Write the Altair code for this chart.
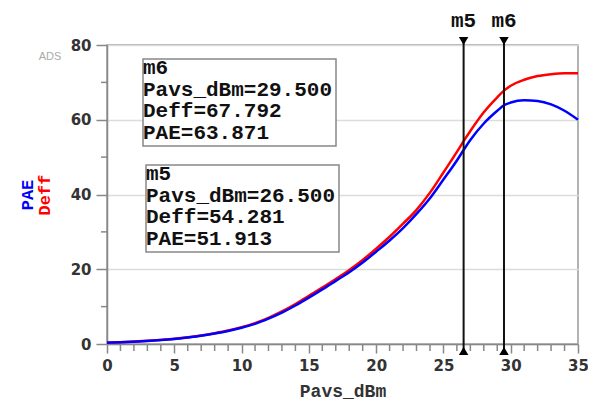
import altair as alt
import pandas as pd

# ---- data ----
pavs = [0, 1, 2, 3, 4, 5, 6, 7, 8, 9, 10, 11, 12, 13, 14, 15, 16, 17, 18, 19, 20,
        21, 22, 23, 24, 25, 26, 26.5, 27, 28, 29, 29.5, 30, 31, 32, 33, 34, 35]
deff = [0.4, 0.5, 0.65, 0.85, 1.1, 1.4, 1.8, 2.3, 2.9, 3.6, 4.5, 5.6, 7.0, 8.7, 10.7,
        12.9, 15.1, 17.4, 19.8, 22.5, 25.5, 28.7, 32.2, 35.9, 40.5, 45.9, 51.4, 54.281,
        57.0, 62.0, 66.0, 67.792, 69.1, 70.7, 71.7, 72.2, 72.45, 72.45]
pae = [0.35, 0.45, 0.6, 0.8, 1.05, 1.35, 1.75, 2.2, 2.8, 3.5, 4.35, 5.4, 6.8, 8.4, 10.3,
       12.4, 14.6, 16.9, 19.2, 21.8, 24.7, 27.7, 31.0, 34.8, 39.0, 44.0, 49.1, 51.913,
       54.6, 59.0, 62.4, 63.871, 64.6, 65.2, 65.0, 64.1, 62.4, 60.0]

marker_names = ["m5", "m6"]
marker_pavs = [26.5, 29.5]
marker_deff = [54.281, 67.792]
marker_pae = [51.913, 63.871]

x_major = [0, 5, 10, 15, 20, 25, 30, 35]
x_minor = [v for v in range(0, 36) if v % 5 != 0]
y_major = [0, 20, 40, 60, 80]
y_minor = [10, 30, 50, 70]

curves = pd.DataFrame({"Pavs_dBm": pavs, "Deff": deff, "PAE": pae})
markers = pd.DataFrame({"name": marker_names, "Pavs_dBm": marker_pavs,
                        "Deff": marker_deff, "PAE": marker_pae})

MONO = "Liberation Mono"
W, H = 471, 299

x_scale = alt.Scale(domain=[0, 35], nice=False, zero=False)
y_scale = alt.Scale(domain=[0, 80], nice=False)

x_axis = alt.Axis(
    values=x_major, labelOverlap=False, labelFlush=False,
    tickSize=9, grid=False,
    title="Pavs_dBm",
    titleFont=MONO, titleFontWeight="bold", titleFontSize=18, titleColor="#333",
    titlePadding=9, labelPadding=5,
)
y_axis = alt.Axis(
    values=y_major, labelOverlap=False, labelFlush=False,
    tickSize=11, grid=True, gridColor="#dcdcdc", gridWidth=1.5,
    title=None, labelPadding=5,
)

base = alt.Chart(curves)
red = base.mark_line(color="#ff0000", strokeWidth=2.5, interpolate="monotone").encode(
    x=alt.X("Pavs_dBm:Q", scale=x_scale, axis=x_axis),
    y=alt.Y("Deff:Q", scale=y_scale, axis=y_axis),
)
blue = base.mark_line(color="#0000ff", strokeWidth=2.5, interpolate="monotone").encode(
    x=alt.X("Pavs_dBm:Q", scale=x_scale),
    y=alt.Y("PAE:Q", scale=y_scale),
)

# minor ticks
xminor = alt.Chart(pd.DataFrame({"Pavs_dBm": x_minor})).mark_rule(
    color="#888", strokeWidth=1.5
).encode(x=alt.X("Pavs_dBm:Q", scale=x_scale), y=alt.value(H), y2=alt.value(H + 7))
yminor = alt.Chart(pd.DataFrame({"Deff": y_minor})).mark_rule(
    color="#888", strokeWidth=1.5
).encode(y=alt.Y("Deff:Q", scale=y_scale), x=alt.value(0), x2=alt.value(-6))

mk = alt.Chart(markers)
vlines = mk.mark_rule(color="#111", strokeWidth=2).encode(
    x=alt.X("Pavs_dBm:Q", scale=x_scale), y=alt.value(-4), y2=alt.value(306)
)
tri_top = mk.mark_point(shape="triangle-down", filled=True, color="#000", size=90, opacity=1).encode(
    x=alt.X("Pavs_dBm:Q", scale=x_scale), y=alt.value(-4)
)
tri_bot = mk.mark_point(shape="triangle-up", filled=True, color="#000", size=90, opacity=1).encode(
    x=alt.X("Pavs_dBm:Q", scale=x_scale), y=alt.value(306)
)
mlabels = mk.mark_text(font=MONO, fontWeight="bold", fontSize=21, color="#111",
                       baseline="alphabetic").encode(
    x=alt.X("Pavs_dBm:Q", scale=x_scale), y=alt.value(-18), text="name:N"
)

# marker readout boxes
def box_text(i):
    return (f"{marker_names[i]}\nPavs_dBm={marker_pavs[i]:.3f}\n"
            f"Deff={marker_deff[i]:.3f}\nPAE={marker_pae[i]:.3f}")

def readout(i, x0, x1, y0, y1):
    rect = alt.Chart(markers).mark_rect(fill="white", stroke="#888", strokeWidth=1.5).encode(
        x=alt.value(x0), x2=alt.value(x1), y=alt.value(y0), y2=alt.value(y1)
    ).transform_filter(alt.datum.name == marker_names[i])
    txt = alt.Chart(pd.DataFrame({"t": [box_text(i)]})).mark_text(
        font=MONO, fontWeight="bold", fontSize=21, color="#111",
        align="left", baseline="top", lineBreak="\n", lineHeight=21.5
    ).encode(x=alt.value(x0), y=alt.value(y0 - 2), text="t:N")
    return rect + txt

box6 = readout(1, 36, 229, 14, 101)
box5 = readout(0, 39, 232, 120, 207)

# y axis title (two colours) and ADS tag
ytitle_pae = alt.Chart(pd.DataFrame({"t": ["PAE"]})).mark_text(
    font=MONO, fontWeight="bold", fontSize=17, angle=270, color="#0000ff"
).encode(x=alt.value(-79), y=alt.value(150), text="t:N")
ytitle_deff = alt.Chart(pd.DataFrame({"t": ["Deff"]})).mark_text(
    font=MONO, fontWeight="bold", fontSize=17, angle=270, color="#ff0000"
).encode(x=alt.value(-62), y=alt.value(150), text="t:N")
ads = alt.Chart(pd.DataFrame({"t": ["ADS"]})).mark_text(
    font="Liberation Sans", fontSize=11, color="#aaa"
).encode(x=alt.value(-57), y=alt.value(12), text="t:N")

chart = alt.layer(
    red, blue, xminor, yminor, vlines, tri_top, tri_bot, mlabels, box6, box5,
    ytitle_pae, ytitle_deff, ads
).properties(
    width=W, height=H,
    autosize=alt.AutoSizeParams(type="none"),
    padding={"left": 99, "top": 37, "right": 10, "bottom": 56},
).configure_view(
    stroke="#999", strokeWidth=1.5
).configure_axis(
    labelFont="DejaVu Sans", labelFontSize=15, labelFontWeight="bold", labelColor="#333",
    domainColor="#888", domainWidth=1.5, tickColor="#888", tickWidth=1.5,
)

chart.save("out.html", embed_options={"renderer": "svg", "actions": False})
